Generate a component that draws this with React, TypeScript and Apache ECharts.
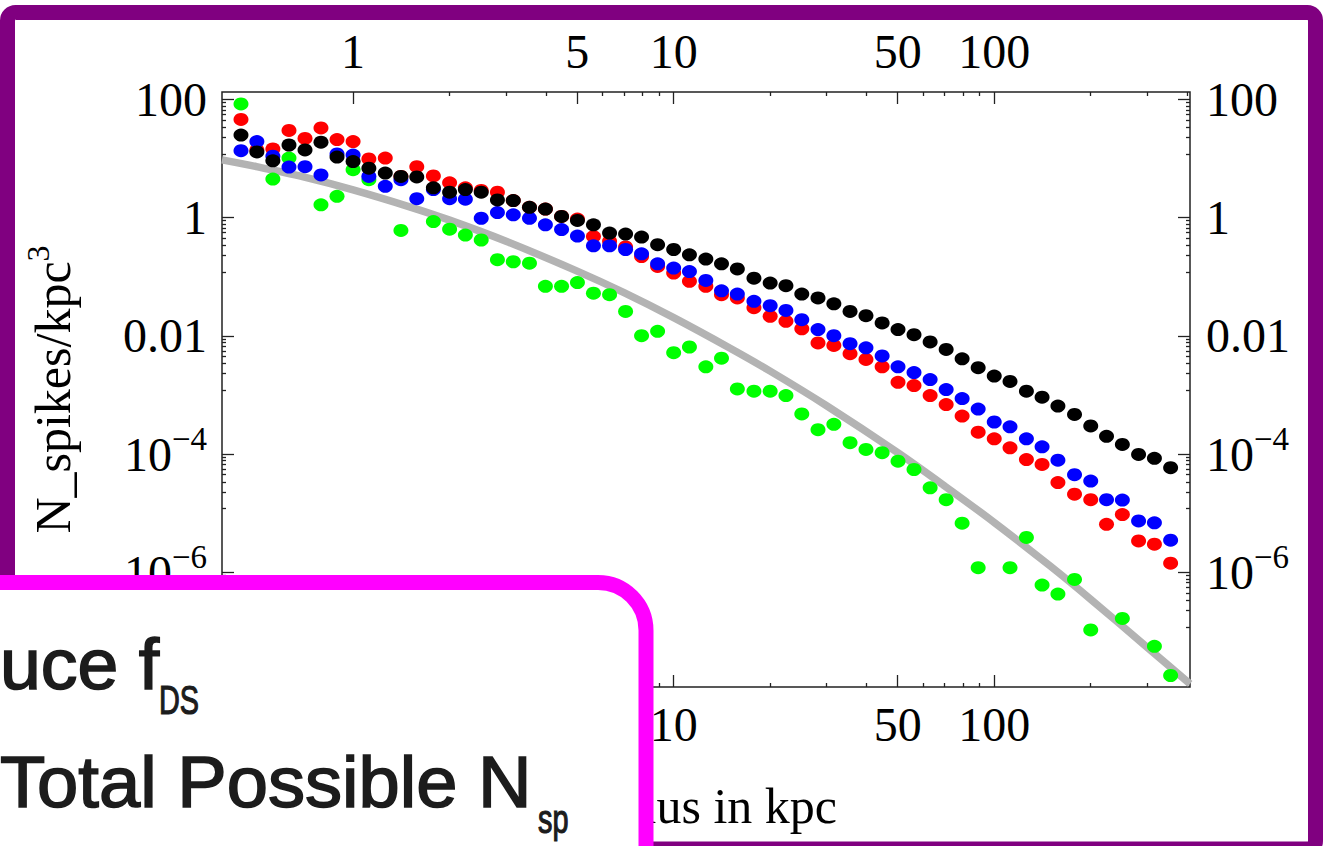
import React, { useEffect, useRef } from 'react';
import * as echarts from 'echarts';

// Bin centres (kpc)
const radiusKpc = [0.447, 0.501, 0.562, 0.631, 0.708, 0.794, 0.891, 1.0, 1.12, 1.26, 1.41, 1.58, 1.78, 2.0, 2.24, 2.51, 2.82, 3.16, 3.55, 3.98, 4.47, 5.01, 5.62, 6.31, 7.08, 7.94, 8.91, 10.0, 11.2, 12.6, 14.1, 15.8, 17.8, 20.0, 22.4, 25.1, 28.2, 31.6, 35.5, 39.8, 44.7, 50.1, 56.2, 63.1, 70.8, 79.4, 89.1, 100, 112, 126, 141, 158, 178, 200, 224, 251, 282, 316, 355];

// N_spikes / kpc^3
const blackVals = [25, 13, 9.2, 17, 14, 19, 10.6, 8.9, 6.9, 5.7, 5.0, 4.9, 3.2, 2.7, 3.0, 2.7, 2.0, 1.95, 1.5, 1.4, 1.05, 0.9, 0.76, 0.55, 0.53, 0.47, 0.35, 0.29, 0.236, 0.2, 0.166, 0.136, 0.095, 0.0785, 0.071, 0.051, 0.044, 0.035, 0.026, 0.022, 0.0166, 0.0128, 0.0105, 0.0079, 0.0059, 0.0041, 0.0029, 0.0021, 0.0017, 0.00116, 0.00092, 0.00065, 0.00047, 0.0003, 0.0002, 0.000146, 9.9e-5, 8.5e-5, 5.9e-5];
const redVals = [46, 14, 14.6, 30, 22, 33, 21, 19.4, 9.9, 10.2, 5.0, 7.3, 5.1, 3.9, 3.2, 2.9, 2.7, 1.95, 1.5, 1.4, 1.05, 0.95, 0.48, 0.4, 0.32, 0.22, 0.15, 0.116, 0.084, 0.069, 0.05, 0.044, 0.03, 0.0215, 0.0177, 0.0132, 0.0076, 0.0069, 0.005, 0.004, 0.003, 0.00164, 0.00145, 0.00098, 0.00069, 0.00044, 0.000235, 0.000182, 0.000128, 8.1e-5, 6.7e-5, 3.3e-5, 2.1e-5, 1.7e-5, 6.5e-6, 9.5e-6, 3.4e-6, 3.0e-6, 1.43e-6];
const blueVals = [13.6, 19.4, 11, 7.2, 7.3, 5.3, 12, 11.5, 5.0, 3.4, 4.4, 2.1, 3.0, 2.1, 2.06, 0.98, 1.22, 1.12, 0.98, 0.76, 0.63, 0.49, 0.335, 0.335, 0.29, 0.245, 0.166, 0.141, 0.123, 0.087, 0.058, 0.051, 0.0385, 0.0325, 0.027, 0.0188, 0.0128, 0.0101, 0.0074, 0.0063, 0.0046, 0.003, 0.0024, 0.00183, 0.00124, 0.00087, 0.00058, 0.00035, 0.00029, 0.000182, 0.000133, 7.9e-5, 4.5e-5, 3.5e-5, 1.7e-5, 1.67e-5, 7.4e-6, 6.9e-6, 3.5e-6];
const greenVals = [84, null, 4.5, 10.2, null, 1.65, 2.3, 6.5, 4.4, null, 0.61, null, 0.86, 0.64, 0.51, 0.42, 0.195, 0.18, 0.17, 0.069, 0.069, 0.08, 0.053, 0.05, 0.026, 0.0101, 0.012, 0.0052, 0.0065, 0.003, 0.0042, 0.00127, 0.00116, 0.00116, 0.00098, 0.00048, 0.00026, 0.00032, 0.000156, 0.00012, 0.000106, 7.6e-5, 5.5e-5, 2.7e-5, 1.7e-5, 6.8e-6, 1.2e-6, null, 1.2e-6, 3.9e-6, 6.1e-7, 4.3e-7, 7.6e-7, 1.06e-7, null, 1.66e-7, null, 5.6e-8, 1.8e-8];

// grey model curve [r kpc, N]
const modelR = [0.39, 0.5, 0.7, 1, 1.5, 2, 3, 5, 7, 10, 15, 20, 30, 50, 70, 100, 150, 200, 300, 408];
const modelN = [9.5, 7.3, 4.9, 2.96, 1.53, 0.91, 0.4, 0.125, 0.054, 0.0204, 0.0062, 0.00254, 6.6e-4, 1.06e-4, 2.9e-5, 7.0e-6, 1.26e-6, 3.5e-7, 5.4e-8, 1.3e-8];

// ticks
const xTopLabels = [1, 5, 10, 50, 100];
const xBottomLabels = [10, 50, 100]; // 1 and 5 sit under the overlay box
const xMajorTicks = [1, 5, 10, 50, 100];
const xMinorTicks = [2, 3, 4, 6, 7, 8, 9, 20, 30, 40, 60, 70, 80, 90, 200, 300, 400];
const yMajorTicks = [100, 1, 0.01, 1e-4, 1e-6];
const yTickLabels = ['100', '1', '0.01', '{b|10}{sup|\u22124}', '{b|10}{sup|\u22126}'];
const yMinorFactors = [0.89, 0.78, 0.67, 0.56, 0.45, 0.34, 0.23, 0.12];

const xRange = [0.39, 408];
const yRange = [1.15e-8, 134];

const lg = (v: number) => Math.log10(v);

function buildOption() {
  const xMin = lg(xRange[0]);
  const xMax = lg(xRange[1]);
  const yMin = lg(yRange[0]);
  const yMax = lg(yRange[1]);
  const xMajorLog = xMajorTicks.map(lg);
  const xMinorLog = xMinorTicks.map(lg);
  const yMajorLog = yMajorTicks.map(lg);
  const yMinorLog: number[] = [];
  yMajorTicks.forEach((t) => yMinorFactors.forEach((f) => yMinorLog.push(lg(t * f))));

  const serif = 'Liberation Serif';
  const tickStyle = { color: '#222', width: 1.3 };
  const labelRich = {
    b: { fontFamily: serif, fontSize: 48, lineHeight: 64, color: '#000' },
    sup: { fontFamily: serif, fontSize: 33, lineHeight: 30, verticalAlign: 'top', color: '#000' },
  };

  const xFmt = (v: number) => String(Math.round(Math.pow(10, v)));
  const yFmt = (v: number) => {
    const i = yMajorLog.findIndex((t) => Math.abs(t - v) < 1e-6);
    return i >= 0 ? yTickLabels[i] : '';
  };

  const mkX = (pos: string, major: boolean, extra: any = {}) => ({
    type: 'value',
    min: xMin,
    max: xMax,
    position: pos,
    axisLine: { show: false, onZero: false },
    splitLine: { show: false },
    axisTick: {
      show: true,
      inside: true,
      length: major ? 12 : 4,
      customValues: major ? xMajorLog : xMinorLog,
      lineStyle: tickStyle,
    },
    axisLabel: major
      ? {
          show: true,
          customValues: (pos === 'top' ? xTopLabels : xBottomLabels).map(lg),
          formatter: xFmt,
          margin: pos === 'top' ? 17 : 13,
          fontFamily: serif,
          fontSize: 48,
          color: '#000',
        }
      : { show: false },
    ...extra,
  });

  const mkY = (pos: string, major: boolean, extra: any = {}) => ({
    type: 'value',
    min: yMin,
    max: yMax,
    position: pos,
    axisLine: { show: false, onZero: false },
    splitLine: { show: false },
    axisTick: {
      show: true,
      inside: true,
      length: major ? 12 : 4,
      customValues: major ? yMajorLog : yMinorLog,
      lineStyle: tickStyle,
    },
    axisLabel: major
      ? {
          show: true,
          customValues: yMajorLog,
          formatter: yFmt,
          margin: pos === 'left' ? 15 : 16,
          fontFamily: serif,
          fontSize: 48,
          color: '#000',
          rich: labelRich,
        }
      : { show: false },
    ...extra,
  });

  const pts = (vals: (number | null)[]) =>
    vals
      .map((n, i) => (n == null ? null : [lg(radiusKpc[i]), lg(n)]))
      .filter((p) => p !== null);

  const scatter = (name: string, vals: (number | null)[], color: string, z: number) => ({
    name,
    type: 'scatter',
    data: pts(vals),
    symbol: 'circle',
    symbolSize: [15, 13],
    itemStyle: { color, opacity: 1 },
    z,
    xAxisIndex: 0,
    yAxisIndex: 0,
  });

  const boxText = {
    fontFamily: 'Liberation Sans',
    fontWeight: 'normal',
    fill: '#1c1c1c',
    stroke: '#1c1c1c',
    lineWidth: 1.6,
    verticalAlign: 'middle',
    align: 'left',
  };

  return {
    animation: false,
    backgroundColor: '#ffffff',
    grid: {
      left: 222,
      right: 133,
      top: 92,
      bottom: 159,
      show: true,
      borderColor: '#222',
      borderWidth: 1.5,
      backgroundColor: '#fff',
      containLabel: false,
      outerBoundsMode: 'none',
    },
    xAxis: [
      mkX('bottom', true, {
        name: 'Radius in kpc',
        nameLocation: 'middle',
        nameGap: 94,
        nameTextStyle: { fontFamily: serif, fontSize: 50, color: '#000', padding: [0, 13, 0, 0] },
      }),
      mkX('top', true),
      mkX('bottom', false),
      mkX('top', false),
    ],
    yAxis: [
      mkY('left', true, {
        name: '{t|N_spikes/kpc}{sup|3}',
        nameLocation: 'middle',
        nameRotate: 90,
        nameGap: 138,
        nameTextStyle: {
          rich: {
            t: { fontFamily: serif, fontSize: 50, lineHeight: 62, color: '#000' },
            sup: { fontFamily: serif, fontSize: 32, lineHeight: 30, verticalAlign: 'top', color: '#000' },
          },
        },
      }),
      mkY('right', true),
      mkY('left', false),
      mkY('right', false),
    ],
    series: [
      {
        name: 'model',
        type: 'line',
        data: modelR.map((r, i) => [lg(r), lg(modelN[i])]),
        smooth: 0.3,
        showSymbol: false,
        symbol: 'none',
        lineStyle: { color: '#b3b3b3', width: 7.5 },
        z: 1,
        silent: true,
      },
      scatter('green', greenVals, '#00ff00', 3),
      scatter('red', redVals, '#ff0000', 4),
      scatter('blue', blueVals, '#0000ff', 5),
      scatter('black', blackVals, '#000000', 6),
    ],
    graphic: [
      {
        type: 'rect',
        z: 50,
        silent: true,
        shape: { x: 7.5, y: 12.5, width: 1308, height: 836.5, r: 8 },
        style: { fill: 'none', stroke: '#800080', lineWidth: 15 },
      },
      {
        type: 'rect',
        z: 100,
        silent: true,
        shape: { x: -60, y: 582.5, width: 706, height: 400, r: 48 },
        style: { fill: '#ffffff', stroke: '#ff00ff', lineWidth: 15 },
      },
      {
        type: 'text',
        z: 101,
        silent: true,
        x: 0,
        y: 664,
        scaleX: 1.02,
        style: { ...boxText, text: 'uce f', fontSize: 72 },
      },
      {
        type: 'text',
        z: 101,
        silent: true,
        x: 159,
        y: 700,
        scaleX: 0.72,
        style: { ...boxText, text: 'DS', fontSize: 40, lineWidth: 1.2 },
      },
      {
        type: 'text',
        z: 101,
        silent: true,
        x: 0,
        y: 782,
        scaleX: 1.03,
        style: { ...boxText, text: 'Total Possible N', fontSize: 72 },
      },
      {
        type: 'text',
        z: 101,
        silent: true,
        x: 538,
        y: 819,
        scaleX: 0.72,
        style: { ...boxText, text: 'sp', fontSize: 40, lineWidth: 1.2 },
      },
    ],
  };
}

export default function App() {
  const ref = useRef<HTMLDivElement>(null);
  useEffect(() => {
    if (!ref.current) return;
    const chart = echarts.init(ref.current, null, { renderer: 'svg' });
    chart.setOption(buildOption() as any);
    return () => chart.dispose();
  }, []);
  return (
    <div
      ref={ref}
      style={{ position: 'fixed', left: 0, top: 0, width: 1323, height: 846, background: '#fff' }}
    />
  );
}
